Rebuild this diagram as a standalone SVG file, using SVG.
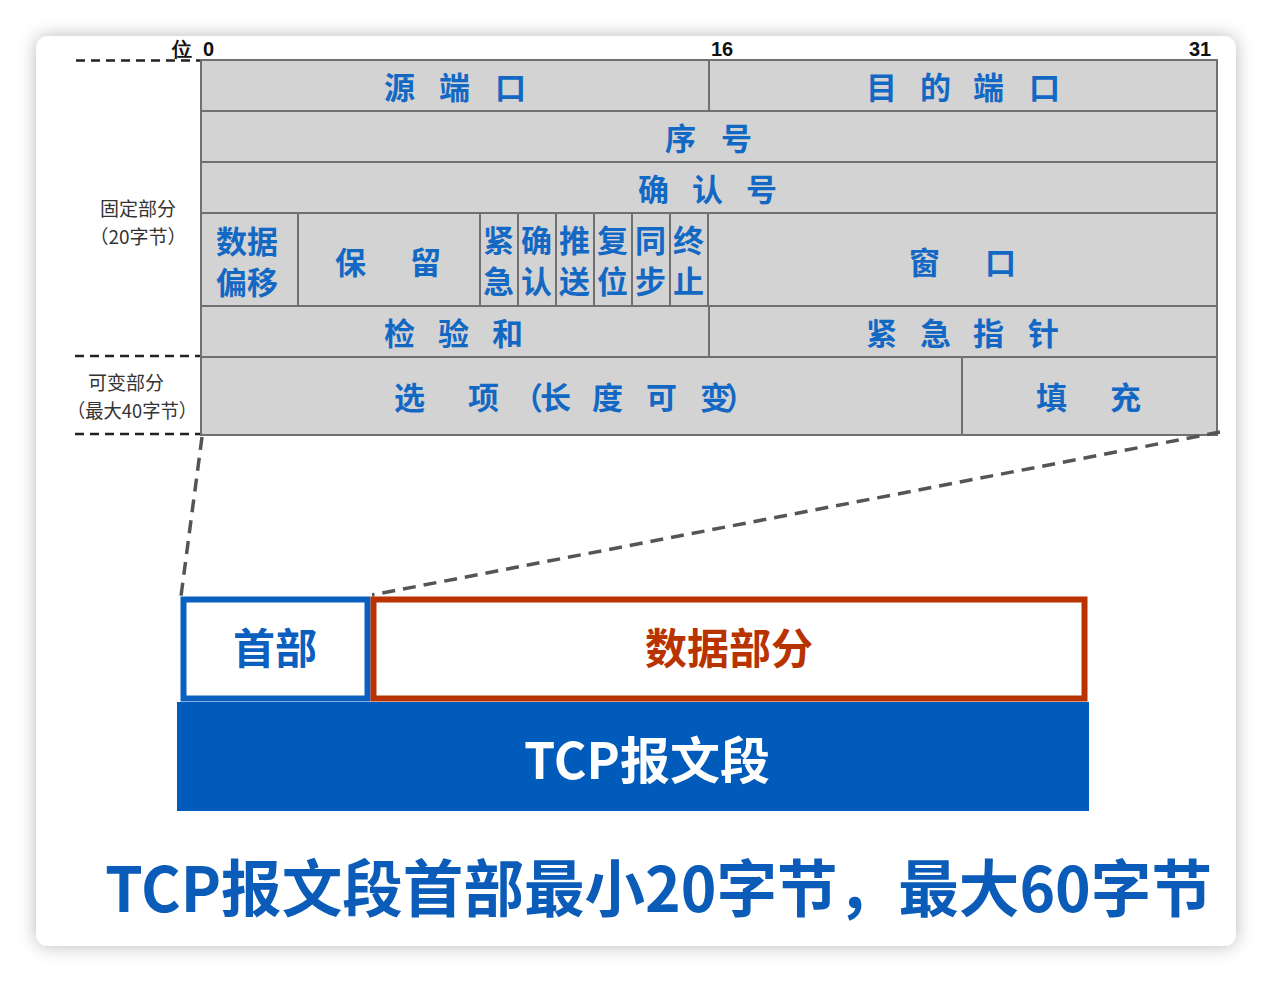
<svg xmlns="http://www.w3.org/2000/svg" width="1272" height="982" viewBox="0 0 1272 982">
<defs>
<filter id="sh" x="-10%" y="-10%" width="120%" height="120%">
<feDropShadow dx="0" dy="0" stdDeviation="9" flood-color="#000" flood-opacity="0.28"/>
</filter>
<style>
.cell{fill:#d3d3d3;stroke:#707070;stroke-width:2}
.t{font-family:"Noto Sans CJK SC","Noto Sans",sans-serif;font-weight:bold;fill:#1368c4;font-size:31px}
.lab{font-family:"Noto Sans CJK SC","Noto Sans",sans-serif;fill:#333;font-size:19px}
.num{font-family:"Liberation Sans",Arial,sans-serif;font-weight:bold;fill:#111;font-size:20px}
.dl{stroke:#222;stroke-width:2.5;stroke-dasharray:9 6;fill:none}
.conn{stroke:#555;stroke-width:3.5;stroke-dasharray:13 8;fill:none}
</style>
</defs>
<rect x="0" y="0" width="1272" height="982" fill="#ffffff"/>
<rect x="36" y="36" width="1200" height="910" rx="12" fill="#ffffff" filter="url(#sh)"/>

<g id="ruler">
<text class="num" x="172" y="56" font-family="Noto Sans CJK SC" font-size="21">位</text>
<text class="num" x="203" y="56">0</text>
<text class="num" x="711" y="56">16</text>
<text class="num" x="1189" y="56">31</text>
</g>

<g id="side-labels">
<line class="dl" x1="76" y1="60.5" x2="201" y2="60.5"/>
<line class="dl" x1="75" y1="356" x2="201" y2="356"/>
<line class="dl" x1="75" y1="434" x2="201" y2="434"/>
<text class="lab" x="138" y="216" text-anchor="middle">固定部分</text>
<text class="lab" x="138" y="244" text-anchor="middle">（20字节）</text>
<text class="lab" x="126" y="390" text-anchor="middle">可变部分</text>
<text class="lab" x="132" y="418" text-anchor="middle" textLength="130" lengthAdjust="spacingAndGlyphs">（最大40字节）</text>
</g>

<g id="row1">
<rect class="cell" x="201" y="60" width="508" height="51"/>
<rect class="cell" x="709" y="60" width="508" height="51"/>
<text class="t" x="384 439 495" y="99">源端口</text>
<text class="t" x="866 920 973 1029" y="99">目的端口</text>
</g>
<g id="row2">
<rect class="cell" x="201" y="111" width="1016" height="51"/>
<text class="t" x="665 721" y="150">序号</text>
</g>
<g id="row3">
<rect class="cell" x="201" y="162" width="1016" height="51"/>
<text class="t" x="638 692 746" y="201">确认号</text>
</g>
<g id="row4">
<rect class="cell" x="201" y="213" width="97" height="93"/>
<rect class="cell" x="298" y="213" width="182" height="93"/>
<rect class="cell" x="480" y="213" width="38" height="93"/>
<rect class="cell" x="518" y="213" width="38" height="93"/>
<rect class="cell" x="556" y="213" width="38" height="93"/>
<rect class="cell" x="594" y="213" width="38" height="93"/>
<rect class="cell" x="632" y="213" width="38" height="93"/>
<rect class="cell" x="670" y="213" width="38" height="93"/>
<rect class="cell" x="708" y="213" width="509" height="93"/>
<text class="t" x="216" y="253" font-size="33">数据</text>
<text class="t" x="216" y="294" font-size="33">偏移</text>
<text class="t" x="335 410" y="274">保留</text>
<text class="t" x="483 521 559 597 635 673" y="252">紧确推复同终</text>
<text class="t" x="483 521 559 597 635 673" y="293">急认送位步止</text>
<text class="t" x="909 985" y="274">窗口</text>
</g>
<g id="row5">
<rect class="cell" x="201" y="306" width="508" height="51"/>
<rect class="cell" x="709" y="306" width="508" height="51"/>
<text class="t" x="384 438 492" y="345">检验和</text>
<text class="t" x="866 920 973 1028" y="345">紧急指针</text>
</g>
<g id="row6">
<rect class="cell" x="201" y="357" width="761" height="78"/>
<rect class="cell" x="962" y="357" width="255" height="78"/>
<text class="t" x="394 468 512 540 592 646 700 725" y="409">选项（长度可变）</text>
<text class="t" x="1036 1110" y="409">填充</text>
</g>

<g id="connectors">
<line class="conn" x1="202" y1="437" x2="181" y2="596"/>
<line class="conn" x1="1220" y1="432" x2="372" y2="595"/>
</g>

<g id="header-box">
<rect x="183.5" y="599.5" width="184" height="99" fill="#fff" stroke="#0b5fbf" stroke-width="6"/>
<text x="275" y="664" text-anchor="middle" font-family="Noto Sans CJK SC,sans-serif" font-weight="bold" font-size="42" fill="#0b5fbf">首部</text>
</g>
<g id="data-box">
<rect x="373.5" y="599.5" width="711" height="99" fill="#fff" stroke="#b93300" stroke-width="6"/>
<text x="729" y="664" text-anchor="middle" font-family="Noto Sans CJK SC,sans-serif" font-weight="bold" font-size="42" fill="#b93300">数据部分</text>
</g>
<g id="segment">
<rect x="177" y="702" width="912" height="109" fill="#005bbb"/>
<text x="647" y="779" text-anchor="middle" font-family="Noto Sans CJK SC,sans-serif" font-weight="bold" font-size="50" fill="#ffffff">TCP报文段</text>
</g>

<g id="caption">
<text x="105" y="912" textLength="1107" lengthAdjust="spacingAndGlyphs" font-family="Noto Sans CJK SC,sans-serif" font-weight="bold" font-size="62" fill="#0a5cb8">TCP报文段首部最小20字节，最大60字节</text>
</g>
</svg>
